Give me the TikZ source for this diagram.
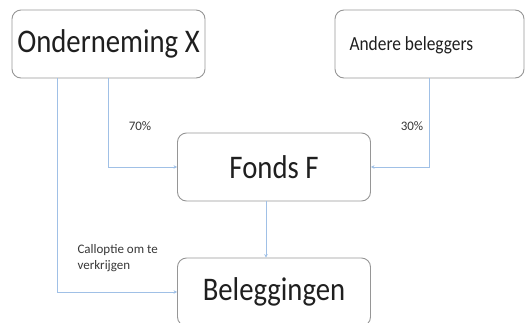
\documentclass[tikz,border=0pt]{standalone}
\usepackage{fontspec}
\setmainfont{Carlito}
\newfontfamily\boxfont[FakeStretch=0.87]{Carlito}
\usetikzlibrary{arrows.meta,positioning}

\definecolor{linkblue}{RGB}{160,192,230}
\definecolor{boxgray}{RGB}{150,150,150}
\definecolor{txtgray}{RGB}{55,55,55}

\tikzset{
    entity/.style={draw=boxgray, line width=0.9pt, rounded corners=9pt,
        minimum width=193pt, minimum height=68pt, inner sep=0pt,
        text=black!88, font=\boxfont\fontsize{33}{40}\selectfont},
    flow/.style={draw=linkblue, line width=0.8pt,
        -{Stealth[length=3.5pt,width=3.5pt]}},
    share/.style={text=txtgray, font=\fontsize{13}{16}\selectfont}
}

\begin{document}
\begin{tikzpicture}[x=1pt, y=-1pt]
            \useasboundingbox (0, 0) rectangle (525, 322);

            % boxes
            \node[entity] (ond) at (108.5, 44) {Onderneming X};
            \node[entity, minimum width=189pt] (and) at (429.5, 44) {};
            \node[font=\boxfont\fontsize{20}{24}\selectfont, text=black!88, anchor=west] (andtxt) at (346, 45) {Andere beleggers};
            \node[entity] (fonds) at (274, 167) {Fonds F};
            \node[entity] (bel) at (274, 292) {Beleggingen};

            % arrows
            \draw[flow] (ond.south) |- (fonds.west);
            \draw[flow] (and.south) |- (fonds.east);
            \draw[flow] ([xshift=-8pt]fonds.south) -- ([xshift=-8pt]bel.north);
            \draw[flow] ([xshift=-51.5pt]ond.south) |- (bel.west);

            % labels
            \node[share] (p70) at (140, 126) {70\%};
            \node[share] (p30) at (412, 126) {30\%};
            \node[share, align=left, anchor=west] (call) at (74, 258) {Calloptie om te\\verkrijgen};
\end{tikzpicture}
\end{document}
